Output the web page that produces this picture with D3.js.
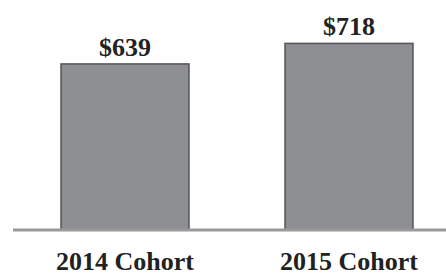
<!DOCTYPE html>
<html lang="en">
  <head>
    <meta charset="utf-8">
    <title>Cohort comparison</title>
    <script type="text/javascript" src="https://d3js.org/d3.v7.min.js" charset="utf-8"></script>
    <style type="text/css">
      body { margin: 0; background: #fff; }
      .label {
        font-family: "Liberation Serif", "DejaVu Serif", serif;
        font-weight: bold;
        font-size: 26px;
        fill: #222;
      }
    </style>
  </head>
  <body>
<script type="text/javascript">

    // data
    var cohorts = ["2014 Cohort", "2015 Cohort"];
    var amounts = [639, 718];
    var valueLabels = ["$639", "$718"];

    var width = 446, height = 275;
    var baseY = 230;

    const svg = d3.select("body").append("svg")
        .attr("width", width)
        .attr("height", height);

    // scales
    var x = d3.scaleBand()
        .domain(cohorts)
        .range([13, 461])
        .paddingInner(0.4286)
        .paddingOuter(0.2143);

    var y = d3.scaleLinear()
        .domain([0, 885])
        .range([baseY, 0]);

    // bars
    svg.selectAll("rect.bar")
        .data(cohorts)
        .join("rect")
        .attr("class", "bar")
        .attr("x", d => x(d))
        .attr("y", (d, i) => y(amounts[i]))
        .attr("width", x.bandwidth())
        .attr("height", (d, i) => y(0) - y(amounts[i]))
        .attr("fill", "#8e8f93")
        .attr("stroke", "#55565a")
        .attr("stroke-width", 1.5);

    // value labels above bars
    svg.selectAll("text.value")
        .data(cohorts)
        .join("text")
        .attr("class", "label value")
        .attr("x", d => x(d) + x.bandwidth() / 2)
        .attr("y", (d, i) => y(amounts[i]) - 8)
        .attr("text-anchor", "middle")
        .text((d, i) => valueLabels[i]);

    // baseline axis, no ticks
    const gX = svg.append("g")
        .attr("transform", `translate(0,${baseY})`)
        .call(d3.axisBottom(x).tickSize(0).tickPadding(14));

    gX.select(".domain")
        .attr("d", `M13,0H${width}`)
        .attr("stroke", "#9a9a9a")
        .attr("stroke-width", 3);

    gX.selectAll(".tick text")
        .attr("class", "label")
        .attr("dy", null)
        .attr("y", 40);

</script>
  </body>
</html>
